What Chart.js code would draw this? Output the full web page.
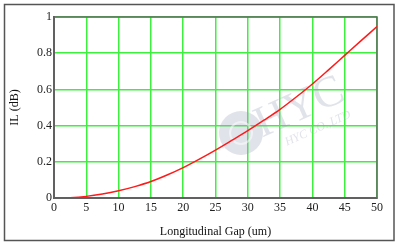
<!DOCTYPE html>
<html>
<head>
<meta charset="utf-8">
<script src="https://cdn.jsdelivr.net/npm/chart.js@4/dist/chart.umd.min.js"></script>
<style>
html,body{margin:0;padding:0;background:#fff;}
#wrap{position:relative;width:400px;height:248px;}
</style>
</head>
<body>
<div id="wrap"><canvas id="c" width="400" height="248"></canvas></div>
<script>
// Data
const gapUm = [0, 2.5, 5, 7.5, 10, 12.5, 15, 17.5, 20, 22.5, 25, 27.5, 30, 32.5, 35, 37.5, 40, 42.5, 45, 47.5, 50];
const ilDb  = [0, 0.002, 0.009, 0.022, 0.04, 0.063, 0.091, 0.127, 0.168, 0.215, 0.265, 0.318, 0.372, 0.43, 0.49, 0.558, 0.63, 0.708, 0.788, 0.868, 0.947];
const xTicks = [0, 5, 10, 15, 20, 25, 30, 35, 40, 45, 50];
const yTicks = ['0', '0.2', '0.4', '0.6', '0.8', '1'];
const xTitle = 'Longitudinal Gap (um)';
const yTitle = 'IL (dB)';
const watermarkBig = 'HYC';
const watermarkSmall = 'HYC CO.,LTD';

const points = gapUm.map((g, i) => ({x: g, y: ilDb[i]}));
const serif = '"Liberation Serif", "DejaVu Serif", serif';

const framePlugin = {
  id: 'frame',
  beforeDraw(chart) {
    const ctx = chart.ctx;
    ctx.save();
    ctx.fillStyle = '#fff';
    ctx.fillRect(0, 0, chart.width, chart.height);
    ctx.strokeStyle = '#555';
    ctx.lineWidth = 1.5;
    ctx.strokeRect(4.5, 4.5, 389.5, 236);
    ctx.restore();
  },
  beforeDatasetsDraw(chart) {
    const ctx = chart.ctx;
    const a = chart.chartArea;
    ctx.save();
    // watermark
    ctx.globalAlpha = 0.3;
    ctx.fillStyle = '#9aa3bd';
    ctx.beginPath();
    ctx.arc(241, 133, 22, 0, Math.PI * 2);
    ctx.fill();
    ctx.globalAlpha = 0.5;
    ctx.strokeStyle = '#fff';
    ctx.lineWidth = 2;
    ctx.beginPath();
    ctx.arc(241, 133, 11, 0, Math.PI * 2);
    ctx.stroke();
    ctx.globalAlpha = 0.3;
    ctx.fillStyle = '#9aa3bd';
    ctx.translate(300, 108);
    ctx.rotate(-0.42);
    ctx.font = '44px ' + serif;
    ctx.textAlign = 'center';
    ctx.textBaseline = 'middle';
    ctx.fillText(watermarkBig, 0, 0);
    ctx.font = 'italic 12px ' + serif;
    ctx.fillText(watermarkSmall, 8, 26);
    ctx.restore();
    // plot box
    ctx.save();
    ctx.strokeStyle = '#666';
    ctx.lineWidth = 1.5;
    ctx.strokeRect(a.left, a.top, a.right - a.left, a.bottom - a.top);
    ctx.restore();
  }
};

new Chart(document.getElementById('c'), {
  type: 'line',
  data: {
    datasets: [{
      data: points,
      borderColor: '#ff1a1a',
      borderWidth: 1.5,
      pointRadius: 0,
      fill: false,
      cubicInterpolationMode: 'monotone'
    }]
  },
  options: {
    responsive: false,
    animation: false,
    layout: {padding: {left: 4, top: 17, right: 23, bottom: 5}},
    plugins: {legend: {display: false}, tooltip: {enabled: false}},
    scales: {
      x: {
        type: 'linear',
        min: 0, max: 50,
        afterBuildTicks: s => { s.ticks = xTicks.map(v => ({value: v})); },
        afterFit: s => { s.height = 45; },
        grid: {color: '#3ef03e', lineWidth: 1.5, drawTicks: false},
        border: {display: true, color: '#555', width: 2},
        ticks: {padding: 3, color: '#222', font: {family: serif, size: 12}, maxRotation: 0,
                callback: v => String(v)},
        title: {display: true, text: xTitle, color: '#111', font: {family: serif, size: 12}, padding: {top: 4, bottom: 4}}
      },
      y: {
        type: 'linear',
        min: 0, max: 1,
        afterBuildTicks: s => { s.ticks = yTicks.map(v => ({value: parseFloat(v)})); },
        afterFit: s => { s.width = 50; },
        grid: {color: '#3ef03e', lineWidth: 1.5, drawTicks: false},
        border: {display: true, color: '#555', width: 2},
        ticks: {padding: 2, color: '#222', font: {family: serif, size: 12},
                callback: (v, i) => yTicks[i]},
        title: {display: true, text: yTitle, color: '#111', font: {family: serif, size: 12}, padding: {top: 4, bottom: 4}}
      }
    }
  },
  plugins: [framePlugin]
});
</script>
</body>
</html>
